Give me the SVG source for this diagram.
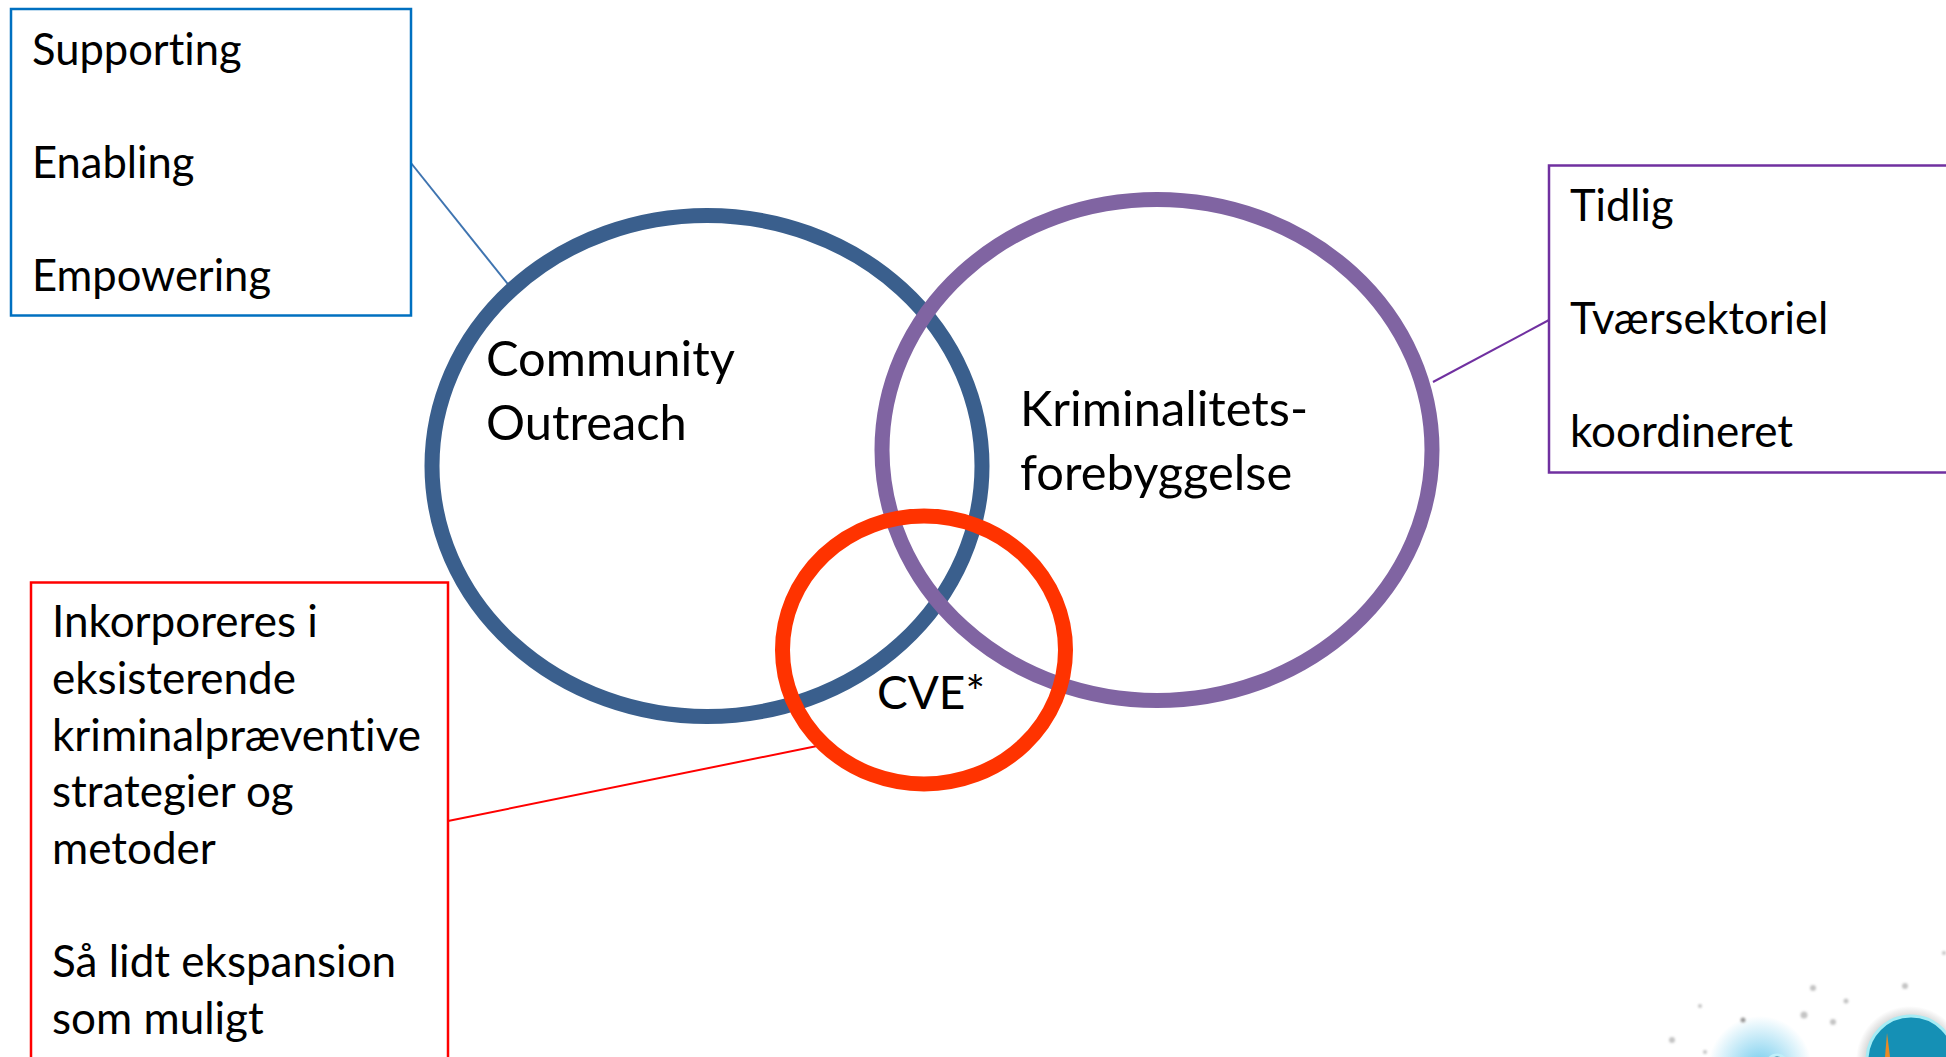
<svg xmlns="http://www.w3.org/2000/svg" width="1946" height="1057" viewBox="0 0 1946 1057">
<style>
text{font-family:"Lato","Liberation Sans",sans-serif;font-size:43.500px;fill:#000;font-variant-ligatures:none}
.big{font-size:48.800px}
.mid{font-size:44px}
.box{fill:#fff;stroke-width:2.5}
.ring{fill:none;stroke-width:15}
.link{fill:none;stroke-width:2}
</style>
<defs>
<radialGradient id="glow"><stop offset="0" stop-color="#35b5e5" stop-opacity=".7"/><stop offset="1" stop-color="#35b5e5" stop-opacity="0"/></radialGradient>
<radialGradient id="halo"><stop offset=".8" stop-color="#999" stop-opacity=".4"/><stop offset="1" stop-color="#999" stop-opacity="0"/></radialGradient>
<filter id="soft"><feGaussianBlur stdDeviation="1"/></filter>
</defs>
<rect width="1946" height="1057" fill="#fff"/>
<g id="decoration">
<circle cx="1760" cy="1068" r="52" fill="url(#glow)"/>
<circle cx="1777" cy="1065" r="10" fill="#0d5d7c" stroke="#bfeffa" stroke-width="3"/>
<circle cx="1910" cy="1060" r="54" fill="url(#halo)"/>
<circle cx="1911" cy="1060" r="44" fill="#1590b5" stroke="#a5ecf5" stroke-width="3"/>
<path d="M1885 1057L1887 1033L1890 1057Z" fill="#e98a25"/>
<g fill="#c4c4c4" filter="url(#soft)"><circle cx="1743" cy="1020" r="2.500" fill="#999"/><circle cx="1672" cy="1040" r="3"/><circle cx="1813" cy="988" r="3"/><circle cx="1804" cy="1015" r="3.500"/><circle cx="1833" cy="1022" r="3"/><circle cx="1905" cy="986" r="3"/><circle cx="1700" cy="1006" r="2"/><circle cx="1944" cy="953" r="2"/><circle cx="1846" cy="1001" r="2.500"/><circle cx="1705" cy="1052" r="2"/></g>
</g>
<g id="connectors">
<line class="link" x1="411" y1="163" x2="511" y2="288" stroke="#3f74b0"/>
<line class="link" x1="1549" y1="320" x2="1433" y2="382" stroke="#7030a0"/>
<line class="link" x1="448" y1="821" x2="822" y2="745" stroke="#f00"/>
</g>
<g id="community-outreach">
<ellipse class="ring" cx="707" cy="466" rx="275" ry="250.500" stroke="#3a5f8d"/>
<text class="big" x="486" y="376">Community</text>
<text class="big" x="486" y="440">Outreach</text>
</g>
<g id="kriminalitet">
<ellipse class="ring" cx="1157" cy="450" rx="275" ry="250.500" stroke="#8064a2"/>
<text class="big" x="1020" y="426">Kriminalitets-</text>
<text class="big" x="1020" y="490">forebyggelse</text>
</g>
<g id="cve">
<ellipse class="ring" cx="924" cy="650" rx="141.500" ry="134" stroke="#ff3300"/>
<text x="877" y="709" style="font-size:46px">CVE*</text>
</g>
<g id="box-blue">
<rect class="box" x="11" y="9" width="400" height="306.500" stroke="#0070c0"/>
<text x="32" y="65">Supporting</text>
<text x="32" y="178">Enabling</text>
<text x="32" y="291">Empowering</text>
</g>
<g id="box-purple">
<rect class="box" x="1549" y="165.500" width="420" height="307" stroke="#7030a0"/>
<text x="1570" y="221">Tidlig</text>
<text x="1570" y="334">Tværsektoriel</text>
<text x="1570" y="447" class="mid">koordineret</text>
</g>
<g id="box-red">
<rect class="box" x="31" y="582.500" width="417" height="500" stroke="#f00"/>
<text class="mid" x="52" y="637">Inkorporeres i</text>
<text class="mid" x="52" y="694">eksisterende</text>
<text class="mid" x="52" y="751">kriminalpræventive</text>
<text class="mid" x="52" y="807">strategier og</text>
<text class="mid" x="52" y="864">metoder</text>
<text class="mid" x="52" y="977">Så lidt ekspansion</text>
<text class="mid" x="52" y="1034">som muligt</text>
</g>
</svg>
